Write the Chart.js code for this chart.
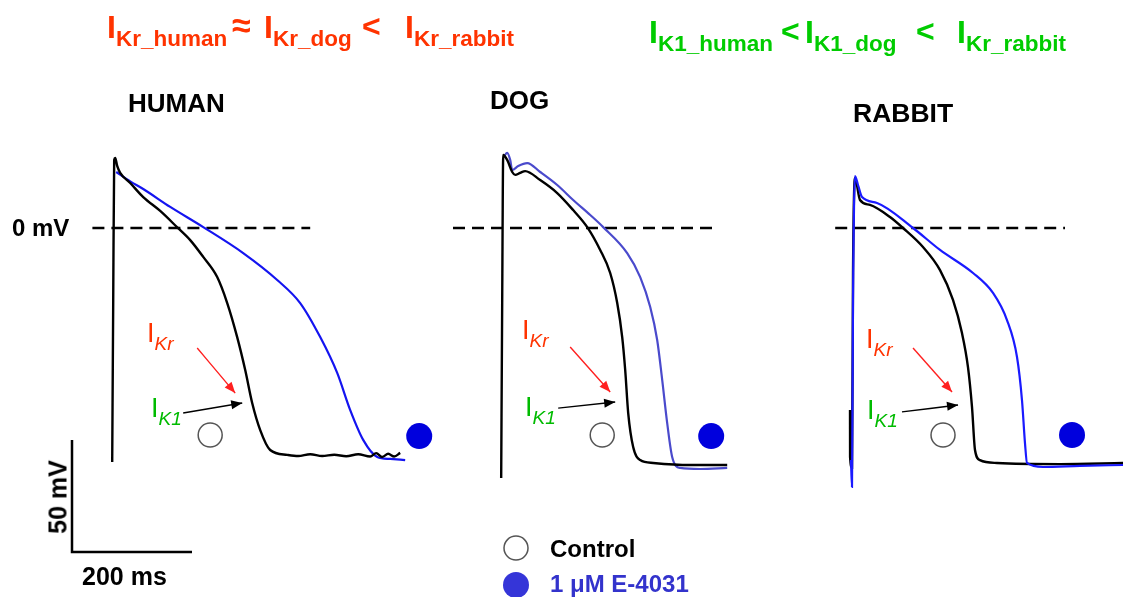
<!DOCTYPE html>
<html>
<head>
<meta charset="utf-8">
<script src="https://cdn.jsdelivr.net/npm/chart.js@4.4.1/dist/chart.umd.min.js"></script>
<style>
  html, body { margin: 0; padding: 0; background: #fff; }
  #wrap { position: relative; width: 1123px; height: 597px; overflow: hidden;
          font-family: 'Liberation Sans', Arial, sans-serif; }
  #apChart { position: absolute; left: 0; top: 0; }
  .lbl { position: absolute; white-space: nowrap; line-height: 1; }
  .sub { position: relative; }
</style>
</head>
<body>
<div id="wrap">
  <canvas id="apChart" width="1123" height="597"></canvas>
</div>
<script>
// Action potentials: time (ms from upstroke), membrane potential (mV)
// Each panel is shifted along the shared time axis.

const humanControl = [[0,-104.5],[1.7,-32],[3.3,30.4],[5,31.3],[8.3,27.7],[13.3,24.6],[30,20.1],[51.7,13.8],[80,7.6],
  [108,0.4],[130,-5.4],[151.7,-12.9],[175,-21.9],[191.7,-33.5],[208.3,-48.7],[221.7,-63.4],[233.3,-78.1],[246.7,-90.2],
  [263.3,-99.1],[291.7,-101.3],[310,-101.8],[330,-101],[350,-101.8],[370,-101.2],[390,-101.9],[410,-101],[430,-102],
  [440,-100.5],[450,-102.2],[460,-100.8],[470,-102],[480,-100.4]];
const humanE4031 = [[6.7,25],[30,20.8],[51.7,17.4],[96.7,9.4],[151.7,0.4],[218.3,-11.2],[275,-23.2],[313.3,-33.5],
  [346.7,-48.7],[375,-64.7],[396.7,-81.3],[418.3,-94.6],[441.7,-102.2],[463.3,-103.1],[488.3,-103.6]];

const dogControl = [[-1.7,-111.6],[0,-32],[1.7,32.6],[8.3,30.4],[16.7,25],[21.7,23.7],[30,24.6],[38.3,25.4],[63.3,21.4],
  [91.7,15.6],[118.3,8],[141.7,0.4],[163.3,-9.8],[180,-20.1],[191.7,-33.5],[200,-48.7],[205,-63.4],[210,-82.6],
  [218.3,-97.8],[230,-103.6],[251.7,-104.9],[313.3,-105.8],[375,-105.8]];
const dogE4031 = [[3.3,32.1],[8.3,33.5],[13.3,30.4],[16.7,25.9],[26.7,27.7],[41.7,29],[63.3,25],[91.7,19.2],[118.3,12.5],
  [146.7,5.8],[168.3,0.4],[208.3,-11.2],[230,-21.9],[246.7,-35.3],[258.3,-50],[266.7,-67.9],[275,-87.1],[283.3,-102.2],
  [296.7,-107.1],[330,-107.6],[375,-107.1]];

const rabbitControl = [[-3.3,-81.3],[-3.2,-102.2],[0,-107],[1.7,-20],[5,22.3],[13.3,12.5],[30,10.3],[63.3,4.9],[85,0],
  [118.3,-8.5],[146.7,-18.8],[168.3,-32.1],[183.3,-46.9],[193.3,-62.1],[200,-79.9],[205,-99.1],[213.3,-103.6],
  [241.7,-104.9],[346.7,-105.4],[451.7,-104.9]];
const rabbitE4031 = [[-1.7,-103.6],[0,-115.6],[1.7,-32],[5,23.2],[10,19.2],[16.7,13.8],[41.7,11.2],[101.7,0],[146.7,-9.8],
  [201.7,-20.1],[235,-29],[258.3,-41.1],[275,-57.6],[283.3,-76.8],[288.3,-96],[291.7,-104.9],[318.3,-106.7],
  [380,-106.2],[451.7,-105.8]];

// 0 mV reference lines (ms range per panel)
const humanZero = [[-33,0],[330,0]];
const dogZero = [[-82,0],[355,0]];
const rabbitZero = [[-28,0],[355,0]];

// IKr (red) and IK1 (black) arrows, tail -> head
const humanKrArrow = [[141.7,-53.6],[205,-73.7]];
const humanK1Arrow = [[118.3,-82.6],[216.7,-78.1]];
const dogKrArrow = [[113.3,-53.1],[180,-73.2]];
const dogK1Arrow = [[93.3,-80.4],[188.3,-77.7]];
const rabbitKrArrow = [[101.7,-53.6],[166.7,-73.2]];
const rabbitK1Arrow = [[83.3,-82.1],[176.7,-79]];

// condition markers: [control, E-4031]
const humanMarks = [[163.3,-92.4],[511.7,-92.9]];
const dogMarks = [[166.7,-92.4],[348.3,-92.9]];
const rabbitMarks = [[151.7,-92.4],[366.7,-92.4]];

// panel start on the shared time axis (ms)
const humanT0 = 187;
const dogT0 = 837;
const rabbitT0 = 1420;

// scale bar: 200 ms x 50 mV
const scaleBar = [[120,-94.6],[120,-144.6],[320,-144.6]];
const legendMarks = [[860,-142.9],[860,-159.4]];

function pts(pairs, t0){
    return pairs.map(p => ({x: p[0] + t0, y: p[1]}));
}

function trace(data, t0, color, width, order){
    return {data: pts(data, t0), showLine: true, borderColor: color, borderWidth: width,
            pointRadius: 0, cubicInterpolationMode: 'monotone', order: order};
}

function arrow(data, t0, color){
    const d = trace(data, t0, color, 1.4, 0);
    d.arrowHead = true;
    return d;
}

function marks(data, t0, fill){
    return {data: pts(data, t0), showLine: false, order: 0,
            pointRadius: [12, 13], pointBackgroundColor: ['#ffffff', fill],
            pointBorderColor: ['#555555', fill], pointBorderWidth: [1.5, 0]};
}

// draws arrow heads at the last point of datasets flagged with arrowHead
const arrowHeads = {
    id: 'arrowHeads',
    afterDatasetsDraw(chart){
        const ctx = chart.ctx;
        chart.data.datasets.forEach((ds, i) => {
            if (!ds.arrowHead) return;
            const p = chart.getDatasetMeta(i).data;
            const a = p[p.length - 2], b = p[p.length - 1];
            const ang = Math.atan2(b.y - a.y, b.x - a.x);
            const len = 11, half = 4.5;
            ctx.save();
            ctx.fillStyle = ds.borderColor;
            ctx.translate(b.x, b.y);
            ctx.rotate(ang);
            ctx.beginPath();
            ctx.moveTo(0, 0);
            ctx.lineTo(-len, -half);
            ctx.lineTo(-len, half);
            ctx.closePath();
            ctx.fill();
            ctx.restore();
        });
    }
};

const dash = [12, 7];

const datasets = [
    trace(humanZero, humanT0, '#000000', 2.5, 5),
    trace(dogZero, dogT0, '#000000', 2.5, 5),
    trace(rabbitZero, rabbitT0, '#000000', 2.5, 5),
    trace(humanE4031, humanT0, '#1414f0', 2.2, 2),
    trace(humanControl, humanT0, '#000000', 2.4, 1),
    trace(dogE4031, dogT0, '#4a4acc', 2.2, 2),
    trace(dogControl, dogT0, '#000000', 2.4, 1),
    trace(rabbitControl, rabbitT0, '#000000', 2.4, 3),
    trace(rabbitE4031, rabbitT0, '#1a1aff', 2.2, 2),
    arrow(humanKrArrow, humanT0, '#ff2020'),
    arrow(humanK1Arrow, humanT0, '#000000'),
    arrow(dogKrArrow, dogT0, '#ff2020'),
    arrow(dogK1Arrow, dogT0, '#000000'),
    arrow(rabbitKrArrow, rabbitT0, '#ff2020'),
    arrow(rabbitK1Arrow, rabbitT0, '#000000'),
    marks(humanMarks, humanT0, '#0000dd'),
    marks(dogMarks, dogT0, '#0000dd'),
    marks(rabbitMarks, rabbitT0, '#0000dd'),
    trace(scaleBar, 0, '#000000', 2.5, 0),
    marks(legendMarks, 0, '#3535d8')
];
datasets.slice(0, 3).forEach(d => d.borderDash = dash);
datasets[datasets.length - 2].cubicInterpolationMode = 'default';

new Chart(document.getElementById('apChart'), {
    type: 'scatter',
    data: {datasets: datasets},
    options: {
        responsive: false,
        animation: false,
        devicePixelRatio: 1,
        layout: {padding: 0, autoPadding: false},
        scales: {
            x: {type: 'linear', display: false, min: 0, max: 1123 / 0.6},
            y: {type: 'linear', display: false, min: -369 / 2.24, max: 228 / 2.24}
        },
        plugins: {legend: {display: false}, tooltip: {enabled: false}}
    },
    plugins: [arrowHeads]
});

// text labels, placed by left edge and baseline
function label(html, left, baseline, size, color, bold){
    const el = document.createElement('div');
    el.className = 'lbl';
    el.innerHTML = html;
    el.style.left = left + 'px';
    el.style.top = (baseline - 0.8465 * size) + 'px';
    el.style.fontSize = size + 'px';
    el.style.color = color;
    el.style.fontWeight = bold ? 'bold' : 'normal';
    document.getElementById('wrap').appendChild(el);
}
function sub(txt, size, shift, italic){
    return '<span class="sub" style="font-size:' + size + 'px;top:' + shift + 'px' +
           (italic ? ';font-style:italic' : '') + '">' + txt + '</span>';
}

// headline relations
const red = '#ff3300', green = '#00cc00';
label('I' + sub('Kr_human', 22.5, 8.5), 107, 38, 32, red, true);
label('≈', 232, 37, 34, red, true);
label('I' + sub('Kr_dog', 22.5, 8.5), 264, 38, 32, red, true);
label('&lt;', 362, 37, 32, red, true);
label('I' + sub('Kr_rabbit', 22.5, 8.5), 405, 38, 32, red, true);

label('I' + sub('K1_human', 22.5, 8), 649, 43.5, 32, green, true);
label('&lt;', 781, 42, 32, green, true);
label('I' + sub('K1_dog', 22.5, 8), 805, 43.5, 32, green, true);
label('&lt;', 916, 42, 32, green, true);
label('I' + sub('Kr_rabbit', 22.5, 8), 957, 43.5, 32, green, true);

label('HUMAN', 128, 112, 26, '#000000', true);
label('DOG', 490, 109, 26, '#000000', true);
label('RABBIT', 853, 122, 26.5, '#000000', true);
label('0 mV', 12, 236, 24, '#000000', true);

label('I' + sub('Kr', 19, 8, true), 147, 343, 27, '#ff3300', false);
label('I' + sub('K1', 19, 8, true), 151, 418, 27, '#00bb00', false);
label('I' + sub('Kr', 19, 8, true), 522, 340, 27, '#ff3300', false);
label('I' + sub('K1', 19, 8, true), 525, 417, 27, '#00bb00', false);
label('I' + sub('Kr', 19, 8, true), 866, 349, 27, '#ff3300', false);
label('I' + sub('K1', 19, 8, true), 867, 420, 27, '#00bb00', false);

label('200 ms', 82, 585, 25, '#000000', true);
label('Control', 550, 557, 24, '#000000', true);
label('1 μM E-4031', 550, 592, 24, '#3333cc', true);

const vlab = document.createElement('div');
vlab.className = 'lbl';
vlab.textContent = '50 mV';
vlab.style.cssText += 'left:58px;top:497px;font-size:25px;font-weight:bold;transform:translate(-50%,-50%) rotate(-90deg);';
document.getElementById('wrap').appendChild(vlab);
</script>
</body>
</html>
